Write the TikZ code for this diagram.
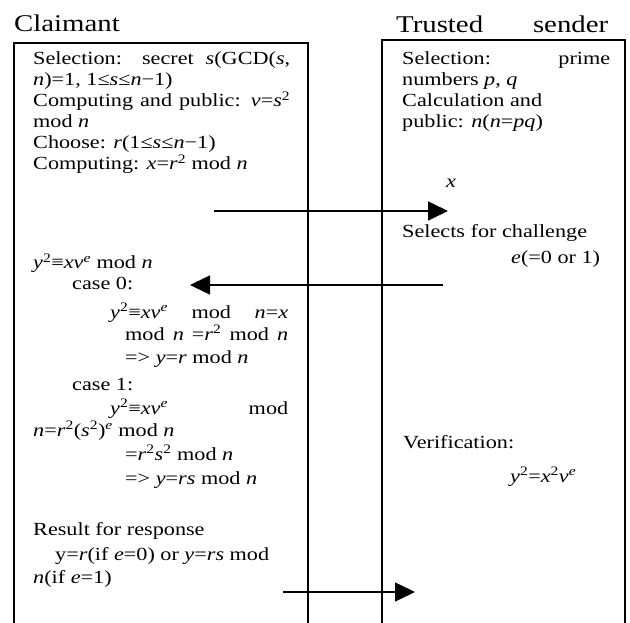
\documentclass[tikz,border=0pt]{standalone}
\usepackage{fontspec}
\setmainfont[FakeStretch=1.2]{Liberation Serif}
\usetikzlibrary{arrows.meta}
\newcommand{\iv}[1]{\textit{#1}}
\newcommand{\su}[1]{\textsuperscript{#1}}
\begin{document}
\begin{tikzpicture}[x=1pt,y=-1pt,
  txt/.style={anchor=base west, inner sep=0pt, font=\fontsize{18.5}{20}\selectfont},
  ttl/.style={anchor=base west, inner sep=0pt, font=\fontsize{24}{28}\selectfont},
  lane/.style={line width=1.6pt},
  msg/.style={line width=1.6pt, -{Triangle[length=20pt,width=19pt]}}]
\useasboundingbox (0,0) rectangle (630,623);
% lanes
\draw[lane] (14,623) -- (14,43) -- (308,43) -- (308,623);
\draw[lane] (382,623) -- (382,40) -- (625,40) -- (625,623);
% titles
\node[ttl] (tc) at (14,32) {Claimant};
\node[ttl] (tt) at (396,33) {\makebox[212pt][s]{Trusted sender}};
% left texts
\node[txt] (l1) at (33,65) {\makebox[257pt][s]{Selection: secret \iv{s}(GCD(\iv{s},}};
\node[txt] (l2) at (33,86) {\iv{n})=1, 1≤\iv{s}≤\iv{n}−1)};
\node[txt] (l3) at (33,107) {\makebox[257pt][s]{Computing and public: \iv{v}=\iv{s}\su{2}}};
\node[txt] (l4) at (33,128) {mod \iv{n}};
\node[txt] (l5) at (33,149) {Choose: \iv{r}(1≤\iv{s}≤\iv{n}−1)};
\node[txt] (l6) at (33,170) {Computing: \iv{x}=\iv{r}\su{2} mod \iv{n}};
\node[txt] (l7) at (33,269) {\iv{y}\su{2}≡\iv{xv}\su{\iv{e}} mod \iv{n}};
\node[txt] (l8) at (72,290) {case 0:};
\node[txt] (l9) at (110,318) {\makebox[178pt][s]{\iv{y}\su{2}≡\iv{xv}\su{\iv{e}} mod \iv{n}=\iv{x}}};
\node[txt] (l10) at (125,340) {\makebox[163pt][s]{mod \iv{n} =\iv{r}\su{2} mod \iv{n}}};
\node[txt] (l11) at (125,363) {=> \iv{y}=\iv{r} mod \iv{n}};
\node[txt] (l12) at (72,390) {case 1:};
\node[txt] (l13) at (110,414) {\makebox[178pt][s]{\iv{y}\su{2}≡\iv{xv}\su{\iv{e}} mod}};
\node[txt] (l14) at (33,436) {\iv{n}=\iv{r}\su{2}(\iv{s}\su{2})\su{\iv{e}} mod \iv{n}};
\node[txt] (l15) at (125,460) {=\iv{r}\su{2}\iv{s}\su{2} mod \iv{n}};
\node[txt] (l16) at (125,484) {=> \iv{y}=\iv{rs} mod \iv{n}};
\node[txt] (l17) at (33,535) {Result for response};
\node[txt] (l18) at (55,560) {y=\iv{r}(if \iv{e}=0) or \iv{y}=\iv{rs} mod};
\node[txt] (l19) at (33,583) {\iv{n}(if \iv{e}=1)};
% right texts
\node[txt] (r1) at (402,65) {\makebox[208pt][s]{Selection: prime}};
\node[txt] (r2) at (402,86) {numbers \iv{p}, \iv{q}};
\node[txt] (r3) at (402,107) {Calculation and};
\node[txt] (r4) at (402,128) {public: \iv{n}(\iv{n}=\iv{pq})};
\node[txt] (rx) at (446,188) {\iv{x}};
\node[txt] (r5) at (402,238) {Selects for challenge};
\node[txt] (r6) at (511,263) {\iv{e}(=0 or 1)};
\node[txt] (r7) at (403,448) {Verification:};
\node[txt] (r8) at (510,482) {\iv{y}\su{2}=\iv{x}\su{2}\iv{v}\su{\iv{e}}};
% message endpoints
\coordinate (a1s) at (214,211); \coordinate (a1e) at (448,211);
\coordinate (a2s) at (443,285); \coordinate (a2e) at (190,285);
\coordinate (a3s) at (283,592); \coordinate (a3e) at (415,592);
\draw[msg] (a1s) -- (a1e);
\draw[msg] (a2s) -- (a2e);
\draw[msg] (a3s) -- (a3e);
\end{tikzpicture}
\end{document}
